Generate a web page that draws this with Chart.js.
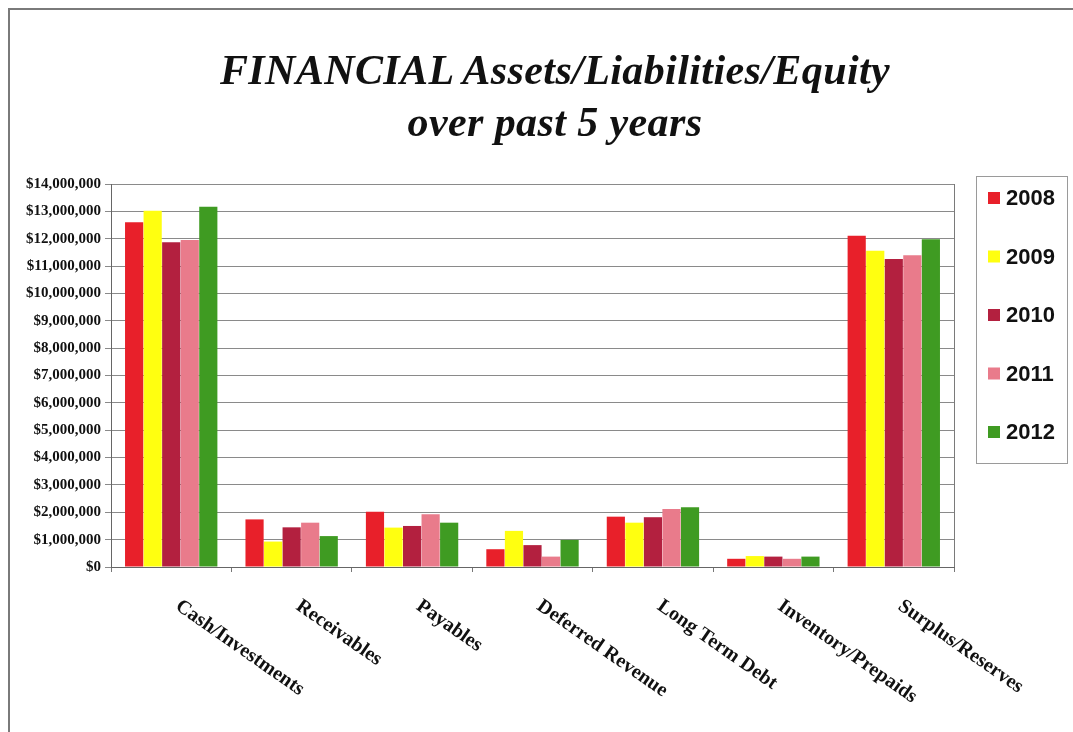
<!DOCTYPE html>
<html>
<head>
<meta charset="utf-8">
<script src="https://cdn.jsdelivr.net/npm/chart.js@4"></script>
<style>
  body { margin: 0; background: #fff; }
  #wrap { position: relative; width: 1073px; height: 732px; }
  #title {
    position: absolute; left: 0; top: 44px; width: 1110px;
    text-align: center; font: italic bold 42px "Liberation Serif", serif;
    line-height: 52px; color: #111; letter-spacing: 0.4px;
  }
  canvas { position: absolute; left: 0; top: 0; }
</style>
</head>
<body>
<div id="wrap">
  <canvas id="finChart" width="1073" height="732"></canvas>
  <div id="title">FINANCIAL Assets/Liabilities/Equity<br>over past 5 years</div>
</div>
<script>
const categories = ["Cash/Investments", "Receivables", "Payables", "Deferred Revenue",
                    "Long Term Debt", "Inventory/Prepaids", "Surplus/Reserves"];
const years = ["2008", "2009", "2010", "2011", "2012"];

const values2008 = [12600000, 1740000, 2020000, 650000, 1840000, 300000, 12110000];
const values2009 = [13020000, 930000, 1440000, 1320000, 1620000, 400000, 11560000];
const values2010 = [11870000, 1450000, 1500000, 800000, 1820000, 380000, 11260000];
const values2011 = [11950000, 1620000, 1930000, 380000, 2120000, 300000, 11400000];
const values2012 = [13170000, 1130000, 1620000, 990000, 2180000, 380000, 11980000];

const yMax = 14000000;
const yStep = 1000000;

const seriesValues = [values2008, values2009, values2010, values2011, values2012];
const seriesColors = ['#e8202a', '#ffff10', '#b3203f', '#e97b8b', '#3f9b22'];

// page frame, chart-area right edge, slanted category labels and legend box
const extras = {
  id: 'extras',
  beforeDraw(chart) {
    const c = chart.ctx;
    c.save();
    c.strokeStyle = '#7a7a7a';
    c.lineWidth = 2;
    c.beginPath();
    c.moveTo(9, 732);
    c.lineTo(9, 9);
    c.lineTo(1073, 9);
    c.stroke();
    c.restore();
  },
  afterDraw(chart) {
    const c = chart.ctx;
    const area = chart.chartArea;
    const xs = chart.scales.x;
    c.save();
    c.strokeStyle = '#7a7a7a';
    c.lineWidth = 1;
    c.beginPath();
    c.moveTo(Math.round(area.right) + 0.5, area.top);
    c.lineTo(Math.round(area.right) + 0.5, area.bottom);
    c.stroke();

    // category labels, rotated clockwise
    c.fillStyle = '#111';
    c.font = 'bold 20px "Liberation Serif", serif';
    c.textAlign = 'left';
    c.textBaseline = 'top';
    categories.forEach((lab, i) => {
      const x = xs.getPixelForValue(i);
      c.save();
      c.translate(x + 12, area.bottom + 29);
      c.rotate(35 * Math.PI / 180);
      c.fillText(lab, 0, 0);
      c.restore();
    });

    // legend
    c.strokeStyle = '#9a9a9a';
    c.strokeRect(976.5, 176.5, 91, 287);
    c.font = 'bold 22px "Liberation Sans", sans-serif';
    c.textBaseline = 'middle';
    chart.data.datasets.forEach((ds, i) => {
      const cy = 198 + i * 58.5;
      c.fillStyle = ds.backgroundColor;
      c.fillRect(988, cy - 6, 12, 12);
      c.fillStyle = '#111';
      c.fillText(ds.label, 1006, cy + 1);
    });
    c.restore();
  }
};

new Chart(document.getElementById('finChart'), {
  type: 'bar',
  data: {
    labels: categories,
    datasets: years.map((y, i) => ({
      label: y,
      data: seriesValues[i],
      backgroundColor: seriesColors[i],
      borderWidth: 0,
      categoryPercentage: 0.77,
      barPercentage: 0.98
    }))
  },
  options: {
    responsive: false,
    animation: false,
    layout: { padding: { top: 184, right: 119, bottom: 0, left: 0 } },
    plugins: {
      legend: { display: false },
      title: { display: false },
      tooltip: { enabled: false }
    },
    scales: {
      x: {
        ticks: { display: false },
        grid: { drawOnChartArea: false, color: '#777', tickLength: 5 },
        border: { color: '#666' },
        afterFit: scale => { scale.height = 165; }
      },
      y: {
        min: 0,
        max: yMax,
        ticks: {
          stepSize: yStep,
          padding: 4,
          color: '#111',
          font: { family: '"Liberation Serif", serif', weight: 'bold', size: 15 },
          callback: v => '$' + v.toLocaleString('en-US')
        },
        grid: { color: '#8a8a8a', tickLength: 6 },
        border: { color: '#666' },
        afterFit: scale => { scale.width = 111; }
      }
    }
  },
  plugins: [extras]
});
</script>
</body>
</html>
